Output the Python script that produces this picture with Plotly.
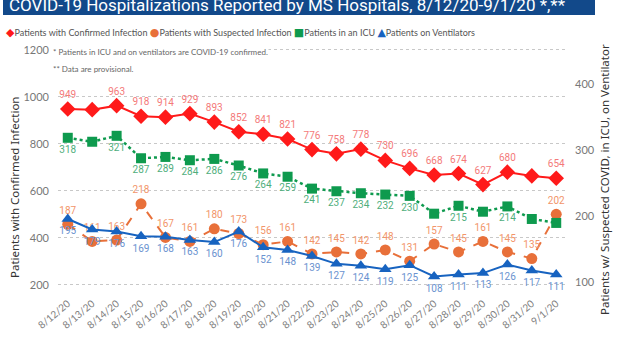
import plotly.graph_objects as go

# ---------------- data ----------------
dates = ["8/12/20", "8/13/20", "8/14/20", "8/15/20", "8/16/20", "8/17/20", "8/18/20",
         "8/19/20", "8/20/20", "8/21/20", "8/22/20", "8/23/20", "8/24/20", "8/25/20",
         "8/26/20", "8/27/20", "8/28/20", "8/29/20", "8/30/20", "8/31/20", "9/1/20"]
confirmed = [949, 946, 963, 918, 914, 929, 893, 852, 841, 821, 776, 758, 778, 730,
             696, 668, 674, 627, 680, 664, 654]
suspected = [187, 161, 163, 218, 167, 161, 180, 173, 156, 161, 142, 145, 142, 148,
             131, 157, 145, 161, 145, 135, 202]
icu = [318, 312, 321, 287, 289, 284, 286, 276, 264, 259, 241, 237, 234, 232,
       230, 203, 215, 206, 214, 195, 189]
vent = [195, 179, 176, 169, 168, 163, 160, 176, 152, 148, 139, 127, 124, 119,
        125, 108, 111, 113, 126, 117, 111]
confirmed_hidden = [1, 19]
icu_hidden = [1, 15, 17, 19, 20]
left_ticks = [200, 400, 600, 800, 1000, 1200]
right_ticks = [100, 200, 300, 400]

title = "COVID-19 Hospitalizations Reported by MS Hospitals, 8/12/20-9/1/20 *,**"
names = ["Patients with Confirmed Infection", "Patients with Suspected Infection",
         "Patients in an ICU", "Patients on Ventilators"]
left_title = "Patients with Confirmed Infection"
right_title = "Patients w/ Suspected COVID, in ICU, on Ventilator"
notes = ["* Patients in ICU and on ventilators are COVID-19 confirmed.",
         "** Data are provisional."]

# ---------------- style ----------------
W, H = 621, 352
ML, MR, MT, MB = 58, 55, 45, 57
PW, PH = W - ML - MR, H - MT - MB
RED, ORANGE, GREEN, BLUE = "#FF1A1A", "#E8703A", "#0E9A4E", "#1763C0"
RED_L, ORANGE_L, GREEN_L, BLUE_L = "#F47A7A", "#F2956A", "#4FAE7C", "#6A92CF"
FONT = "Lato"
LBL_FONT = "Roboto"


def px(x):
    return (x - ML) / PW


def py(y):
    return (H - MB - y) / PH


def labels(vals, hidden=()):
    return ["" if i in hidden else str(v) for i, v in enumerate(vals)]


fig = go.Figure()
fig.add_trace(go.Scatter(
    x=dates, y=confirmed, name=names[0], mode="lines+markers+text",
    line=dict(color=RED, width=2), marker=dict(symbol="diamond", size=12, color=RED),
    text=labels(confirmed, confirmed_hidden), textposition="top center",
    textfont=dict(family=LBL_FONT, size=10, color=RED_L), yaxis="y", cliponaxis=False))
fig.add_trace(go.Scatter(
    x=dates, y=suspected, name=names[1], mode="lines+markers+text",
    line=dict(color=ORANGE, width=2, dash="dash"), marker=dict(symbol="circle", size=11, color=ORANGE),
    text=labels(suspected), textposition="top center",
    textfont=dict(family=LBL_FONT, size=10, color=ORANGE_L), yaxis="y2", cliponaxis=False))
fig.add_trace(go.Scatter(
    x=dates, y=icu, name=names[2], mode="lines+markers+text",
    line=dict(color=GREEN, width=2.5, dash="dot"), marker=dict(symbol="square", size=10, color=GREEN),
    text=labels(icu, icu_hidden), textposition="bottom center",
    textfont=dict(family=LBL_FONT, size=10, color=GREEN_L), yaxis="y2", cliponaxis=False))
fig.add_trace(go.Scatter(
    x=dates, y=vent, name=names[3], mode="lines+markers+text",
    line=dict(color=BLUE, width=2), marker=dict(symbol="triangle-up", size=11, color=BLUE),
    text=labels(vent), textposition="bottom center",
    textfont=dict(family=LBL_FONT, size=10, color=BLUE_L), yaxis="y2", cliponaxis=False))

annotations = []
# title text
annotations.append(dict(xref="paper", yref="paper", x=px(7), y=py(17), xanchor="left", yanchor="bottom",
                        text=title, showarrow=False,
                        font=dict(family="Roboto", size=17, color="white")))
# legend (one line of coloured symbols + names)
leg_syms = [("◆", RED), ("●", ORANGE), ("■", GREEN), ("▲", BLUE)]
leg_text = " ".join(
    f"<span style='color:{c};font-size:11px;font-family:DejaVu Sans'>{s}</span>{n}"
    for (s, c), n in zip(leg_syms, names))
annotations.append(dict(xref="paper", yref="paper", x=px(4), y=py(33), xanchor="left", yanchor="middle",
                        text=leg_text, showarrow=False,
                        font=dict(family=FONT, size=9, color="#555555")))
# notes
annotations.append(dict(xref="paper", yref="paper", x=px(52), y=py(52), xanchor="left", yanchor="middle",
                        text=notes[0], showarrow=False, bgcolor="white", borderpad=0,
                        font=dict(family=FONT, size=8, color="#666666")))
annotations.append(dict(xref="paper", yref="paper", x=px(52), y=py(69), xanchor="left", yanchor="middle",
                        text=notes[1], showarrow=False, bgcolor="white", borderpad=0,
                        font=dict(family=FONT, size=8, color="#666666")))
# axis titles
annotations.append(dict(xref="paper", yref="paper", x=px(14), y=py(188), xanchor="center", yanchor="middle",
                        text=left_title, textangle=-90, showarrow=False,
                        font=dict(family="Noto Sans", size=11.5, color="#333333")))
annotations.append(dict(xref="paper", yref="paper", x=px(604), y=py(180), xanchor="center", yanchor="middle",
                        text=right_title, textangle=-90, showarrow=False,
                        font=dict(family="Noto Sans", size=11.5, color="#333333")))

fig.update_layout(
    width=W, height=H, margin=dict(l=ML, r=MR, t=MT, b=MB, pad=0),
    paper_bgcolor="white", plot_bgcolor="white", showlegend=False,
    font=dict(family=FONT, size=11, color="#777777"),
    xaxis=dict(type="category", range=[-0.4, 20.4], tickangle=-40, showgrid=False,
               showline=False, zeroline=False, ticks="", tickfont=dict(size=10, color="#808080")),
    yaxis=dict(range=[157.4, 1221], tickvals=left_ticks, showgrid=True, griddash="dot",
               gridcolor="#C8C8C8", gridwidth=1, zeroline=False, showline=False, ticks="",
               ticklabelstandoff=8, tickfont=dict(size=11, color="#777777")),
    yaxis2=dict(range=[79.8, 458.6], tickvals=right_ticks, overlaying="y", side="right",
                showgrid=False, zeroline=False, showline=False, ticks="",
                ticklabelstandoff=8, tickfont=dict(size=11, color="#777777")),
    shapes=[dict(type="rect", xref="paper", yref="paper", x0=px(3), x1=px(595), y0=py(0), y1=py(15),
                 fillcolor="#12498A", line=dict(width=0), layer="below")],
    annotations=annotations,
)

fig.write_html("out.html")
